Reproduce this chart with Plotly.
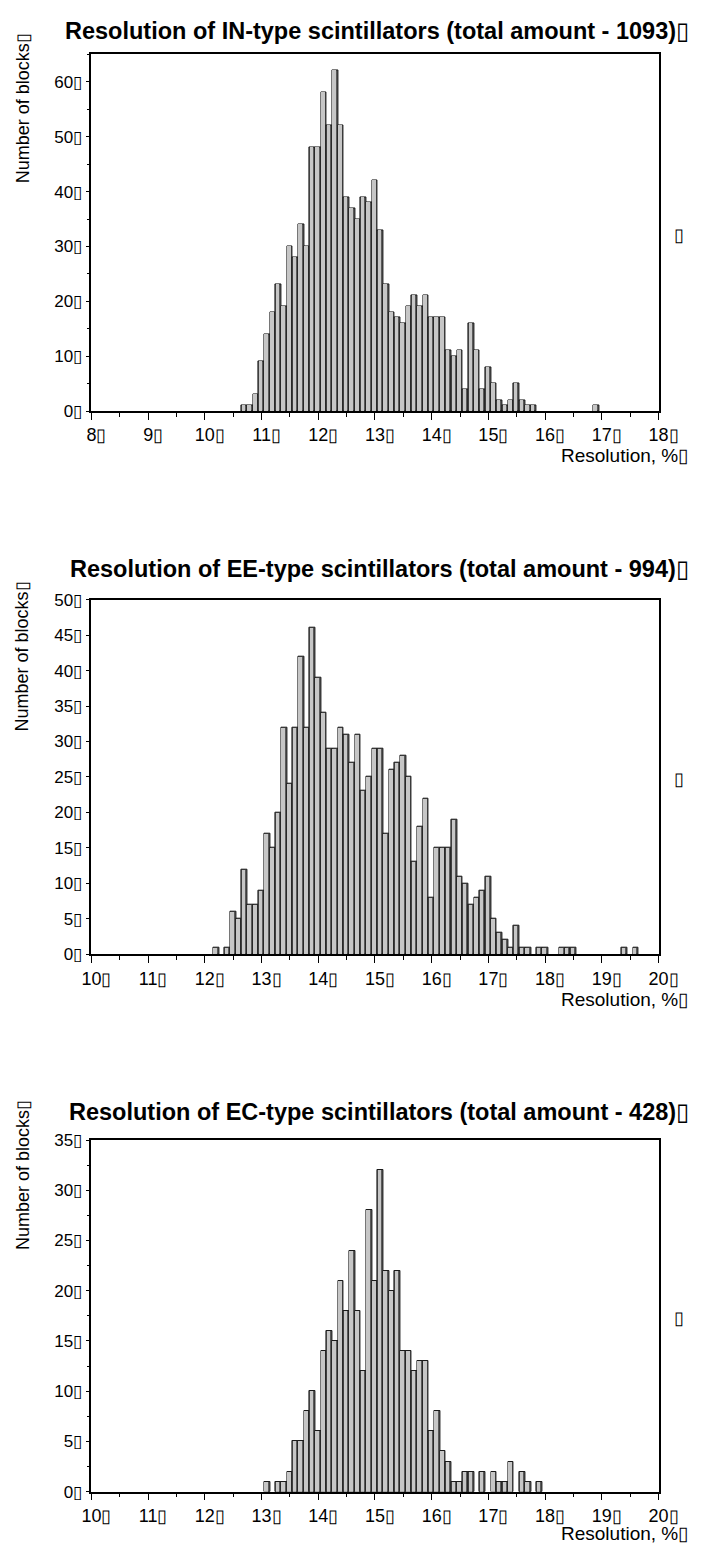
import plotly.graph_objects as go

# ---------------- data (bin centre, %  -> number of blocks) ----------------
in_res = [10.7, 10.8, 10.9, 11.0, 11.1, 11.2, 11.3, 11.4, 11.5, 11.6, 11.7, 11.8, 11.9,
          12.0, 12.1, 12.2, 12.3, 12.4, 12.5, 12.6, 12.7, 12.8, 12.9, 13.0, 13.1, 13.2,
          13.3, 13.4, 13.5, 13.6, 13.7, 13.8, 13.9, 14.0, 14.1, 14.2, 14.3, 14.4, 14.5,
          14.6, 14.7, 14.8, 14.9, 15.0, 15.1, 15.2, 15.3, 15.4, 15.5, 15.6, 15.7, 15.8, 16.9]
in_cnt = [1, 1, 3, 9, 14, 18, 23, 19, 30, 28, 34, 30, 48,
          48, 58, 52, 62, 52, 39, 37, 35, 39, 38, 42, 33, 23,
          18, 17, 16, 19, 21, 19, 21, 17, 17, 17, 11, 10, 11,
          4, 16, 11, 4, 8, 5, 2, 1, 2, 5, 2, 1, 1, 1]

ee_res = [12.2, 12.4, 12.5, 12.6, 12.7, 12.8, 12.9, 13.0, 13.1, 13.2, 13.3, 13.4, 13.5,
          13.6, 13.7, 13.8, 13.9, 14.0, 14.1, 14.2, 14.3, 14.4, 14.5, 14.6, 14.7, 14.8,
          14.9, 15.0, 15.1, 15.2, 15.3, 15.4, 15.5, 15.6, 15.7, 15.8, 15.9, 16.0, 16.1,
          16.2, 16.3, 16.4, 16.5, 16.6, 16.7, 16.8, 16.9, 17.0, 17.1, 17.2, 17.3, 17.4,
          17.5, 17.6, 17.7, 17.9, 18.0, 18.3, 18.4, 18.5, 19.4, 19.6]
ee_cnt = [1, 1, 6, 5, 12, 7, 7, 9, 17, 15, 20, 32, 24,
          32, 42, 32, 46, 39, 34, 29, 29, 32, 31, 27, 31, 23,
          25, 29, 29, 17, 26, 27, 28, 25, 13, 18, 22, 8, 15,
          15, 15, 19, 11, 10, 7, 8, 9, 11, 5, 3, 2, 1,
          4, 1, 1, 1, 1, 1, 1, 1, 1, 1]

ec_res = [13.1, 13.3, 13.4, 13.5, 13.6, 13.7, 13.8, 13.9, 14.0, 14.1, 14.2, 14.3, 14.4,
          14.5, 14.6, 14.7, 14.8, 14.9, 15.0, 15.1, 15.2, 15.3, 15.4, 15.5, 15.6, 15.7,
          15.8, 15.9, 16.0, 16.1, 16.2, 16.3, 16.4, 16.5, 16.6, 16.7, 16.9, 17.1, 17.2,
          17.3, 17.4, 17.6, 17.7, 17.9]
ec_cnt = [1, 1, 1, 2, 5, 5, 8, 10, 6, 14, 16, 15, 21,
          18, 24, 18, 12, 28, 21, 32, 22, 20, 22, 14, 14, 12,
          13, 13, 6, 8, 4, 3, 1, 1, 2, 2, 2, 2, 1,
          1, 3, 2, 1, 1]

titles = ["Resolution of IN-type scintillators (total amount - 1093)",
          "Resolution of EE-type scintillators (total amount - 994)",
          "Resolution of EC-type scintillators (total amount - 428)"]
x_ticks = [[8, 9, 10, 11, 12, 13, 14, 15, 16, 17, 18],
           [10, 11, 12, 13, 14, 15, 16, 17, 18, 19, 20],
           [10, 11, 12, 13, 14, 15, 16, 17, 18, 19, 20]]
y_ticks = [[0, 10, 20, 30, 40, 50, 60],
           [0, 5, 10, 15, 20, 25, 30, 35, 40, 45, 50],
           [0, 5, 10, 15, 20, 25, 30, 35]]
y_tops = [65, 50, 35]
x_label = "Resolution, %"
y_label = "Number of blocks"

BOX = "\u25af"
W, H = 713, 1554
FONT = "Liberation Sans, Arial, Helvetica, sans-serif"

def px(x):
    return x / W

def py(y):
    return 1 - y / H

# plot-area geometry in page pixels (left, right, top, bottom)
panels = [(85, 677, 46, 407), (85, 677, 598, 957), (85, 677, 1145, 1501)]
title_y = [22, 567, 1117]
xtitle_y = [452, 1003, 1543]
ytitle_centre = [100, 655, 1180]
y_minor = [5, None, 2.5]

fig = go.Figure()
data = [(in_res, in_cnt), (ee_res, ee_cnt), (ec_res, ec_cnt)]
annotations = []
for i, ((xs, ys), (l, r, t, b)) in enumerate(zip(data, panels), start=1):
    xa = "x" if i == 1 else f"x{i}"
    ya = "y" if i == 1 else f"y{i}"
    # shadow (dark right edge) + light face to imitate the shaded bars
    fig.add_trace(go.Bar(x=xs, y=ys, width=0.1, xaxis=xa, yaxis=ya,
                         marker=dict(color="#5a5a5a", line=dict(color="#1a1a1a", width=1)),
                         showlegend=False, hoverinfo="x+y"))
    fig.add_trace(go.Bar(x=[v - 0.012 for v in xs], y=ys, width=0.062, xaxis=xa, yaxis=ya,
                         marker=dict(color="#c6c6c6", line=dict(width=0)),
                         showlegend=False, hoverinfo="skip"))
    xt = x_ticks[i - 1]
    yt = y_ticks[i - 1]
    xaxis = dict(domain=[px(l), px(r)], anchor=ya, range=[xt[0], xt[-1]],
                 tickvals=xt, ticktext=[f"{v}{BOX}" for v in xt],
                 ticks="outside", ticklen=7, tickwidth=1.3, tickcolor="black",
                 minor=dict(dtick=0.5, tick0=0, ticks="outside", ticklen=4,
                            tickwidth=1.2, tickcolor="black"),
                 showline=True, linecolor="black", linewidth=1.5, mirror=True,
                 showgrid=False, zeroline=False, ticklabelshift=5,
                 tickfont=dict(family=FONT, size=18, color="black"))
    yaxis = dict(domain=[py(b), py(t)], anchor=xa, range=[0, y_tops[i - 1]],
                 tickvals=yt, ticktext=[f"{v}{BOX}" for v in yt],
                 ticks="outside", ticklen=4, tickwidth=1.2, tickcolor="black",
                 showline=True, linecolor="black", linewidth=1.5, mirror=True,
                 showgrid=False, zeroline=False, ticklabelstandoff=0,
                 tickfont=dict(family=FONT, size=17, color="black"))
    if y_minor[i - 1]:
        yaxis["minor"] = dict(dtick=y_minor[i - 1], tick0=0, ticks="outside", ticklen=3,
                              tickwidth=1, tickcolor="black")
    fig.update_layout(**{("xaxis" if i == 1 else f"xaxis{i}"): xaxis,
                         ("yaxis" if i == 1 else f"yaxis{i}"): yaxis})
    # title
    annotations.append(dict(text=f"<b>{titles[i - 1]}</b>{BOX}", x=px(711),
                            y=py(title_y[i - 1]),
                            xref="paper", yref="paper", xanchor="right", yanchor="middle",
                            showarrow=False, font=dict(family=FONT, size=23.5, color="black")))
    # x-axis title
    annotations.append(dict(text=f"{x_label}{BOX}", x=px(710), y=py(xtitle_y[i - 1]),
                            xref="paper", yref="paper", xanchor="right", yanchor="middle",
                            showarrow=False, font=dict(family=FONT, size=19, color="black")))
    # y-axis title (near the top of the frame)
    annotations.append(dict(text=f"{y_label}{BOX}", x=px(13), y=py(ytitle_centre[i - 1]),
                            xref="paper", yref="paper", xanchor="center", yanchor="middle",
                            textangle=-90, showarrow=False,
                            font=dict(family=FONT, size=18, color="black")))
    # stray glyph at the right of each panel
    annotations.append(dict(text=BOX, x=px(698), y=py((t + b) / 2 + 2),
                            xref="paper", yref="paper", xanchor="center", yanchor="middle",
                            showarrow=False, font=dict(family=FONT, size=18, color="black")))

fig.update_layout(width=W, height=H, margin=dict(l=0, r=0, t=0, b=0),
                  paper_bgcolor="white", plot_bgcolor="white",
                  barmode="overlay", bargap=0, annotations=annotations,
                  font=dict(family=FONT, color="black"))

fig.write_html("out.html", config={"displayModeBar": False},
               post_script="document.body.style.margin='0';"
                           "document.body.style.overflow='hidden';")
